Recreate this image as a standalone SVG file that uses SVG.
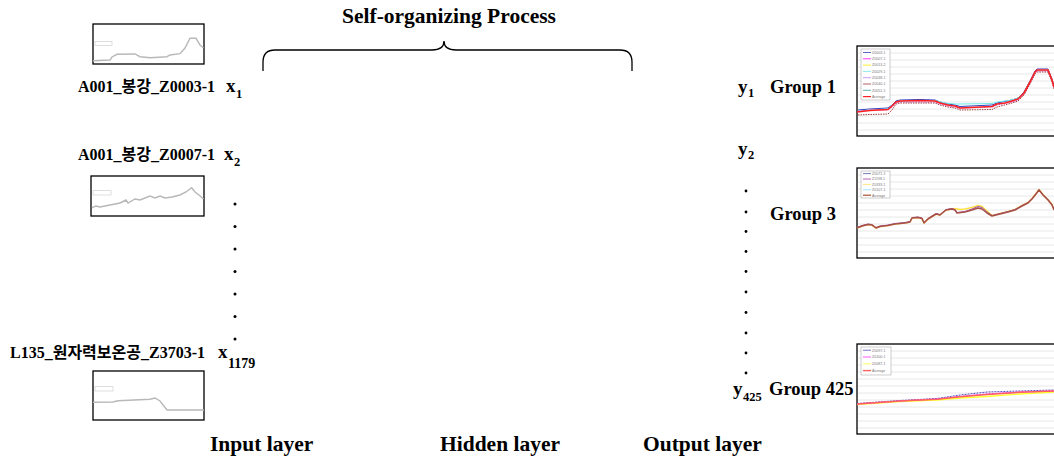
<svg xmlns="http://www.w3.org/2000/svg" width="1054" height="461" viewBox="0 0 1054 461">
  <defs>
    <style>
      .t { font-family: "Liberation Serif", "Noto Sans CJK KR", serif; font-weight: bold; fill: #000; }
      .big { font-size: 21.5px; }
      .lbl { font-size: 16px; }
      .var { font-size: 19px; }
      .sub { font-size: 12.5px; }
      .grp { font-size: 18.5px; }
      .frame { fill: #fff; stroke: #000; stroke-width: 1.3; }
      .thumb { fill: none; stroke: #b8b8b8; stroke-width: 1.4; }
      .tleg { fill: #fff; stroke: #c8c8c8; stroke-width: 0.6; }
      .grid { fill: none; stroke: #e2e2e2; stroke-width: 0.8; }
      .leg { fill: #fff; stroke: #9a9a9a; stroke-width: 0.5; }
      .legtxt { font-family: "Liberation Sans", sans-serif; font-size: 3.6px; fill: #777; }
      .dot { fill: #000; }
      .data { fill: none; stroke-linejoin: round; }
    </style>
  </defs>
  <rect width="1054" height="461" fill="#fff"/>

  <!-- title and layer captions -->
  <text class="t big" x="449" y="23" text-anchor="middle">Self-organizing Process</text>
  <text class="t big" x="210" y="451">Input layer</text>
  <text class="t big" x="440" y="451">Hidden layer</text>
  <text class="t big" x="643" y="451">Output layer</text>

  <!-- curly brace spanning the process -->
  <g id="connectors">
    <path id="brace" d="M263,71 V62 Q263,50 275,50 H432 Q444,50 444,41 Q444,50 456,50 H620 Q632,50 632,62 V71" fill="none" stroke="#000" stroke-width="1.3"/>
  </g>

  <!-- input nodes -->
  <g id="input-x1">
    <rect class="frame" x="93" y="24" width="111" height="40"/>
    <rect class="tleg" x="95" y="41.5" width="17" height="4"/>
    <polyline class="thumb" points="93,60.7 110,60 112,57 117,54.3 135,54 140,56.7 150,57.7 167,56.7 170,55 180,53.7 185,48 190,38.3 196,38.3 200,45 203.5,48"/>
    <text class="t lbl" x="78" y="92">A001_봉강_Z0003-1</text>
    <text class="t var" x="226" y="92">x</text>
    <text class="t sub" x="236" y="98">1</text>
  </g>
  <g id="input-x2">
    <rect class="frame" x="91" y="176" width="113" height="40"/>
    <rect class="tleg" x="93" y="190.7" width="18" height="4.3"/>
    <polyline class="thumb" points="92,207.7 96,206 100,207 110,205 120,203 126,200 128,203 135,199 140,200 145,198 150,196 155,198 160,196 165,198 172,197 180,195 186,192 191.7,187.7 195,192 199,195 203.5,199"/>
    <text class="t lbl" x="78" y="160">A001_봉강_Z0007-1</text>
    <text class="t var" x="224" y="160">x</text>
    <text class="t sub" x="234" y="166">2</text>
  </g>
  <g id="input-dots">
    <circle class="dot" cx="235" cy="204" r="1.5"/>
    <circle class="dot" cx="235" cy="226.5" r="1.5"/>
    <circle class="dot" cx="235" cy="249" r="1.5"/>
    <circle class="dot" cx="235" cy="271.5" r="1.5"/>
    <circle class="dot" cx="235" cy="294" r="1.5"/>
    <circle class="dot" cx="235" cy="316.5" r="1.5"/>
    <circle class="dot" cx="235" cy="339" r="1.5"/>
  </g>
  <g id="input-x1179">
    <rect class="frame" x="93" y="371" width="111" height="49"/>
    <rect class="tleg" x="95" y="386.7" width="18" height="4.3"/>
    <polyline class="thumb" points="93,402.3 113,402 118,400.7 150,399.3 155,398 160,401 167,410 172,410 204,410"/>
    <text class="t lbl" x="10" y="358">L135_원자력보온공_Z3703-1</text>
    <text class="t var" x="218" y="358">x</text>
    <text class="t sub" x="228" y="368" style="font-size:14px">1179</text>
  </g>

  <!-- output nodes -->
  <g id="output-y1">
    <text class="t var" x="738" y="93">y</text>
    <text class="t sub" x="748" y="97">1</text>
    <text class="t grp" x="770" y="93">Group 1</text>
    <rect class="frame" x="857" y="46" width="210" height="90"/>
    <path class="grid" d="M858,53H1054M858,60H1054M858,67H1054M858,74H1054M858,81H1054M858,88H1054M858,95H1054M858,102H1054M858,109H1054M858,116H1054M858,123H1054M858,130H1054"/>
    <polyline class="data" stroke="#3040c0" stroke-width="1" points="858,110 870,109 888,108 892,105 896,101 900,100 920,99.5 935,100 940,102 948,104 955,105 960,106.5 992,105 997,103 1012,100 1018,98 1024,92 1030,81 1035,71 1037,69 1048,69 1052,79 1054,86"/>
    <polyline class="data" stroke="#70e8e8" stroke-width="1" points="858,111 870,110 888,109 896,102 900,101 935,100.5 945,103 955,104 960,104 992,103.5 997,102 1012,100 1018,98 1024,93 1030,82 1035,72 1037,70 1048,70 1052,80 1054,87"/>
    <polyline class="data" stroke="#d070f0" stroke-width="1" stroke-dasharray="2 1" points="858,111 870,110 888,110 892,107 896,103 900,102 935,102 940,104 948,106 955,107 960,108 992,107 997,105 1012,102 1018,100 1024,94 1030,83 1035,73 1037,71 1048,71 1052,81 1054,88"/>
    <polyline class="data" stroke="#a03a3a" stroke-width="1" stroke-dasharray="1.5 1" points="858,115 870,114.5 888,114 892,110 896,104 900,103 935,103 940,105 948,107 955,108 960,110 992,109.5 997,107 1012,103 1018,101 1024,95 1030,84 1035,74 1037,72 1048,72 1052,82 1054,89"/>
    <polyline class="data" stroke="#ff2020" stroke-width="1.6" points="857,112 870,110.5 888,109.5 892,106 896,102 900,101 920,100.5 935,101 940,103 948,105 955,106 960,108 992,106.5 997,104 1005,103 1012,101 1018,99 1024,93 1030,82 1035,72 1037,70 1048,70 1052,80 1054,87"/>
    <rect class="leg" x="861" y="49" width="29" height="51"/>
    <g stroke-width="0.8">
      <line x1="863" y1="52.5" x2="871" y2="52.5" stroke="#3040c0"/>
      <line x1="863" y1="58.8" x2="871" y2="58.8" stroke="#ff00ff"/>
      <line x1="863" y1="65.1" x2="871" y2="65.1" stroke="#ffee00"/>
      <line x1="863" y1="71.4" x2="871" y2="71.4" stroke="#70e8e8"/>
      <line x1="863" y1="77.7" x2="871" y2="77.7" stroke="#c080f0"/>
      <line x1="863" y1="84" x2="871" y2="84" stroke="#a03a3a"/>
      <line x1="863" y1="90.3" x2="871" y2="90.3" stroke="#30a0a0"/>
      <line x1="863" y1="96.6" x2="871" y2="96.6" stroke="#ff2020" stroke-width="1.2"/>
    </g>
    <g class="legtxt">
      <text x="872" y="53.8">Z0003-1</text>
      <text x="872" y="60.1">Z0007-1</text>
      <text x="872" y="66.4">Z0013-2</text>
      <text x="872" y="72.7">Z0029-1</text>
      <text x="872" y="79">Z0038-1</text>
      <text x="872" y="85.3">Z0040-1</text>
      <text x="872" y="91.6">Z0051-1</text>
      <text x="872" y="97.9">Average</text>
    </g>
  </g>

  <g id="output-y2">
    <text class="t var" x="738" y="155">y</text>
    <text class="t sub" x="748" y="159">2</text>
  </g>

  <g id="output-dots">
    <circle class="dot" cx="746" cy="191" r="1.4"/>
    <circle class="dot" cx="746" cy="212" r="1.4"/>
    <circle class="dot" cx="746" cy="231.5" r="1.4"/>
    <circle class="dot" cx="746" cy="251.5" r="1.4"/>
    <circle class="dot" cx="746" cy="271.5" r="1.4"/>
    <circle class="dot" cx="746" cy="292" r="1.4"/>
    <circle class="dot" cx="746" cy="312.5" r="1.4"/>
    <circle class="dot" cx="746" cy="333" r="1.4"/>
    <circle class="dot" cx="746" cy="353" r="1.4"/>
    <circle class="dot" cx="746" cy="373" r="1.4"/>
  </g>

  <g id="output-group3">
    <text class="t grp" x="770" y="220">Group 3</text>
    <rect class="frame" x="857" y="168" width="210" height="90"/>
    <path class="grid" d="M858,175H1054M858,182H1054M858,189H1054M858,196H1054M858,203H1054M858,210H1054M858,217H1054M858,224H1054M858,231H1054M858,238H1054M858,245H1054M858,252H1054"/>
    <polyline class="data" stroke="#ffe040" stroke-width="1.6" points="857,228 862,226 868,224.5 872,225 876,228 880,226.5 888,225.5 895,224 905,223 910,222 912,218 918,217.5 922,218.5 924,223 928,219 932,216.5 936,214 940,215 946,210 952,209 955,208.5 960,209.5 965,209 972,207.5 978,205.5 982,206.5 987,211 992,215.5 1000,213.5 1008,211.5 1015,209.5 1022,205.5 1028,202.5 1032,198.5 1036,193.5 1039,189.5 1043,194.5 1048,199.5 1052,204.5 1054,209.5"/>
    <polyline class="data" stroke="#a050b0" stroke-width="1" points="857,227.5 862,225.5 868,224 872,224.5 876,227.5 880,226 888,225 895,223.5 905,222.5 910,221.5 912,217.5 918,217 922,218 924,222.5 928,218.5 932,216 936,213.5 940,214.5 946,209.5 952,208.5 955,209.5 957,212.5 965,211.5 972,209 978,206.5 982,207.5 987,212 992,215.5 1000,213.5 1008,211.5 1015,209.5 1022,205.5 1028,202.5 1032,198.5 1036,193.5 1039,189.5 1043,194.5 1048,199.5 1052,204.5 1054,209.5"/>
    <polyline class="data" stroke="#a85048" stroke-width="1.5" points="857,228 862,226 868,224.5 872,225 876,228 880,226.5 888,225.5 895,224 905,223 910,222 912,218 918,217.5 922,218.5 924,223 928,219 932,216.5 936,214 940,215 946,210 952,209 955,210 957,213 965,212 972,210 978,208 982,209 987,213 992,216 1000,214 1008,212 1015,210 1022,206 1028,203 1032,199 1036,194 1039,190 1043,195 1048,200 1052,205 1054,210"/>
    <rect class="leg" x="861" y="171" width="29" height="27"/>
    <g stroke-width="0.8">
      <line x1="863" y1="173.6" x2="871" y2="173.6" stroke="#5060a0"/>
      <line x1="863" y1="179" x2="871" y2="179" stroke="#a040a0"/>
      <line x1="863" y1="184.4" x2="871" y2="184.4" stroke="#ffe060"/>
      <line x1="863" y1="189.8" x2="871" y2="189.8" stroke="#80e0ff"/>
      <line x1="863" y1="195.2" x2="871" y2="195.2" stroke="#b05030" stroke-width="1.2"/>
    </g>
    <g class="legtxt">
      <text x="872" y="174.9">Z0071-1</text>
      <text x="872" y="180.3">Z1198-1</text>
      <text x="872" y="185.7">Z0333-1</text>
      <text x="872" y="191.1">Z0107-1</text>
      <text x="872" y="196.5">Average</text>
    </g>
  </g>

  <g id="output-y425">
    <text class="t var" x="733" y="395">y</text>
    <text class="t sub" x="743" y="400.5">425</text>
    <text class="t grp" x="769" y="395">Group 425</text>
    <rect class="frame" x="857" y="344" width="210" height="90"/>
    <path class="grid" d="M858,351H1054M858,358H1054M858,365H1054M858,372H1054M858,379H1054M858,386H1054M858,393H1054M858,400H1054M858,407H1054M858,414H1054M858,421H1054M858,428H1054"/>
    <polyline class="data" stroke="#ffff30" stroke-width="1.4" points="857,404.5 900,401.5 937,400 960,398 987,396.5 1020,394 1054,392"/>
    <polyline class="data" stroke="#5050c0" stroke-width="1" stroke-dasharray="2 1" points="857,403.5 900,400.5 937,398.5 960,395 987,392 1020,391 1054,390"/>
    <polyline class="data" stroke="#ff30ff" stroke-width="1.2" stroke-dasharray="2.5 0.8" points="857,404 900,401 937,399 960,396.5 987,394 1020,392 1054,391"/>
    <polyline class="data" stroke="#ff6060" stroke-width="1.4" points="857,404 900,401 937,399.2 960,396.8 987,394.5 1020,392.3 1054,391"/>
    <rect class="leg" x="861" y="347" width="30" height="28"/>
    <g stroke-width="0.8">
      <line x1="863" y1="350.2" x2="871" y2="350.2" stroke="#5050c0"/>
      <line x1="863" y1="357" x2="871" y2="357" stroke="#ff30ff"/>
      <line x1="863" y1="363.8" x2="871" y2="363.8" stroke="#ffff30"/>
      <line x1="863" y1="370.6" x2="871" y2="370.6" stroke="#ff6060" stroke-width="1.4"/>
    </g>
    <g class="legtxt">
      <text x="872" y="351.5">Z0097-1</text>
      <text x="872" y="358.3">Z0100-1</text>
      <text x="872" y="365.1">Z0087-1</text>
      <text x="872" y="371.9">Average</text>
    </g>
  </g>
</svg>
